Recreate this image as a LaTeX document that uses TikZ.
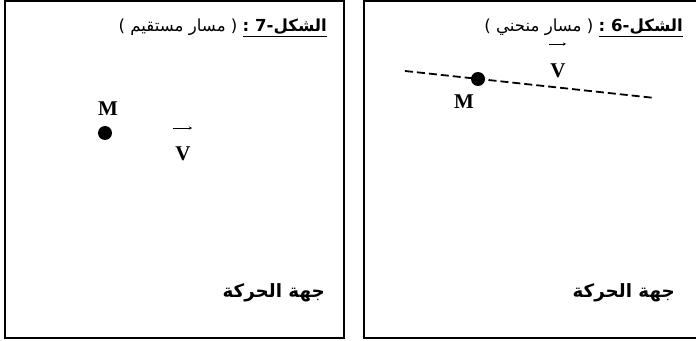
\documentclass[tikz,border=0pt]{standalone}
\usepackage{fontspec}
\setmainfont{Liberation Serif}
\newfontfamily\arabicfont[Script=Arabic]{DejaVu Sans}
\TeXXeTstate=1
\usetikzlibrary{arrows.meta}
\begin{document}
\begin{tikzpicture}[x=1pt,y=-1pt,
  frame/.style={draw, line width=1.5pt},
  titletext/.style={anchor=base east, inner sep=0pt, font=\arabicfont\fontsize{16.6}{18}\selectfont},
  dirtext/.style={anchor=base east, inner sep=0pt, font=\arabicfont\bfseries\fontsize{18.3}{21}\selectfont},
  letter/.style={anchor=base, inner sep=0pt, font=\bfseries\fontsize{21}{23}\selectfont},
  dot/.style={circle, fill=black, minimum size=14pt, inner sep=0pt},
  vecarrow/.style={line width=0.6pt, -{Stealth[length=3pt,width=3pt]}},
  path/.style={line width=1.8pt, dash pattern=on 8pt off 4pt}
]
\useasboundingbox (0,0) rectangle (696,340);
\begin{scope}
\clip (0,0) rectangle (696,340);
% frames
\draw[frame] (5,1) rectangle (344,338);
\draw[frame] (364,1) rectangle (700,338);

% left panel (figure 7)
\node[titletext] (t7) at (327,31.5) {\beginR\underline{\textbf{\beginR الشكل-7 :\endR}} ( مسار مستقيم )\endR};
\node[letter] (m7) at (108,115) {M};
\node[dot] (d7) at (105,133) {};
\node[letter] (v7) at (183,160) {V};
\coordinate (a7s) at (173,128);
\coordinate (a7e) at (192,128);
\draw[vecarrow] (a7s) -- (a7e);
\node[dirtext] (g7) at (325,297) {\beginR جهة الحركة\endR};

% right panel (figure 6)
\node[titletext] (t6) at (683,31.5) {\beginR\underline{\textbf{\beginR الشكل-6 :\endR}} ( مسار منحني )\endR};
\coordinate (p1) at (405,71);
\coordinate (p2) at (655,98);
\draw[path] (p1) -- (p2);
\node[dot] (d6) at (478,79) {};
\node[letter] (m6) at (464,108) {M};
\node[letter] (v6) at (558,77) {V};
\coordinate (a6s) at (549,44);
\coordinate (a6e) at (566,44);
\draw[vecarrow] (a6s) -- (a6e);
\node[dirtext] (g6) at (675,297) {\beginR جهة الحركة\endR};
\end{scope}
\end{tikzpicture}
\end{document}
